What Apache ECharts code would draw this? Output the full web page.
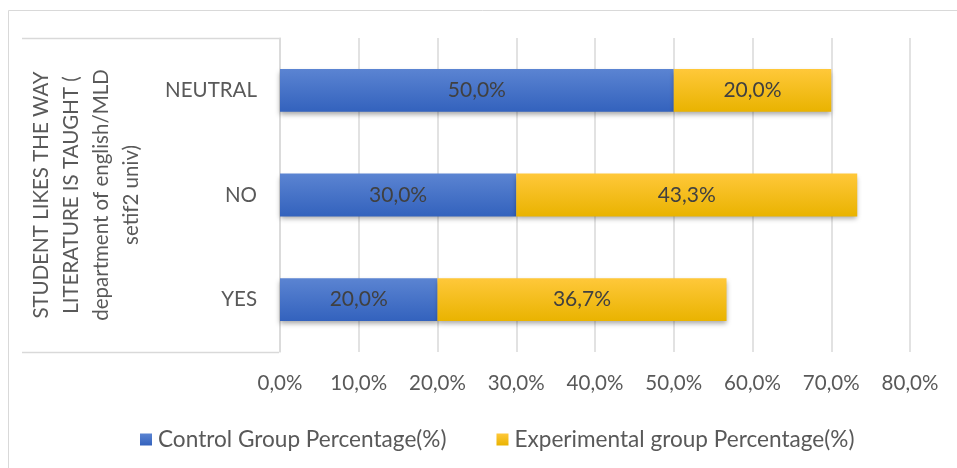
<!DOCTYPE html>
<html><head><meta charset="utf-8">
<script src="https://cdn.jsdelivr.net/npm/echarts@6/dist/echarts.min.js"></script>
<style>html,body{margin:0;padding:0;background:#fff}#c{width:957px;height:468px}</style>
</head><body><div id="c"></div>
<script>
const categories = ['YES', 'NO', 'NEUTRAL'];
const controlValues = [20.0, 30.0, 50.0];
const experimentalValues = [36.7, 43.3, 20.0];
const seriesNames = ['Control Group Percentage(%)', 'Experimental group Percentage(%)'];
const axisTitle = 'STUDENT LIKES THE WAY\nLITERATURE IS TAUGHT (\ndepartment of english/MLD\nsetif2 univ)';

const FONT = 'Lato';
const fmt = v => v.toFixed(1).replace('.', ',') + '%';
const chart = echarts.init(document.getElementById('c'));
const grad = (a, b) => new echarts.graphic.LinearGradient(0, 0, 0, 1, [{offset: 0, color: a}, {offset: 1, color: b}]);
const barCommon = {
  type: 'bar', stack: 'total', barCategoryGap: '59%',
  label: {show: true, position: 'inside', color: '#404040', fontSize: 21, fontFamily: FONT, formatter: p => fmt(p.value)},
};
chart.setOption({
  animation: false,
  textStyle: {fontFamily: FONT},
  graphic: [
    {type: 'line', shape: {x1: 8.5, y1: 10.5, x2: 957, y2: 10.5}, style: {stroke: '#d9d9d9', lineWidth: 1}},
    {type: 'line', shape: {x1: 8.5, y1: 10.5, x2: 8.5, y2: 468}, style: {stroke: '#d9d9d9', lineWidth: 1}},
    {type: 'line', shape: {x1: 22, y1: 38.5, x2: 279, y2: 38.5}, style: {stroke: '#d9d9d9', lineWidth: 1.5}},
    {type: 'line', shape: {x1: 22, y1: 352.5, x2: 279, y2: 352.5}, style: {stroke: '#d9d9d9', lineWidth: 1.5}}
  ],
  grid: {left: 280, right: 47, top: 38, bottom: 116, containLabel: false},
  legend: {
    left: 135, top: 423, itemWidth: 12, itemHeight: 12, itemGap: 50, icon: 'rect',
    textStyle: {color: '#595959', fontSize: 22.6, fontFamily: FONT, padding: [0, 0, 0, 1]},
    data: seriesNames
  },
  xAxis: {
    type: 'value', min: 0, max: 80, interval: 10,
    axisLabel: {formatter: v => fmt(v), color: '#595959', fontSize: 20.5, fontFamily: FONT, margin: 21},
    splitLine: {lineStyle: {color: '#d9d9d9', width: 1.5}},
    axisLine: {show: false}, axisTick: {show: false}
  },
  yAxis: {
    type: 'category', data: categories,
    name: axisTitle, nameLocation: 'middle', nameRotate: 90, nameGap: 134,
    nameTextStyle: {color: '#595959', fontSize: 20.5, fontFamily: FONT, lineHeight: 30, align: 'center'},
    axisLabel: {color: '#595959', fontSize: 20.5, fontFamily: FONT, margin: 23},
    axisLine: {show: true, lineStyle: {color: '#d9d9d9', width: 1.5}},
    axisTick: {show: false}
  },
  series: [
    Object.assign({}, barCommon, {name: seriesNames[0], data: controlValues,
      itemStyle: {color: grad('#5b84d2', '#3362bd'), shadowColor: 'rgba(0,0,0,0.35)', shadowBlur: 5, shadowOffsetY: 3}}),
    Object.assign({}, barCommon, {name: seriesNames[1], data: experimentalValues,
      itemStyle: {color: grad('#ffc83a', '#e9b300'), shadowColor: 'rgba(0,0,0,0.35)', shadowBlur: 5, shadowOffsetY: 3}})
  ]
});
</script></body></html>
